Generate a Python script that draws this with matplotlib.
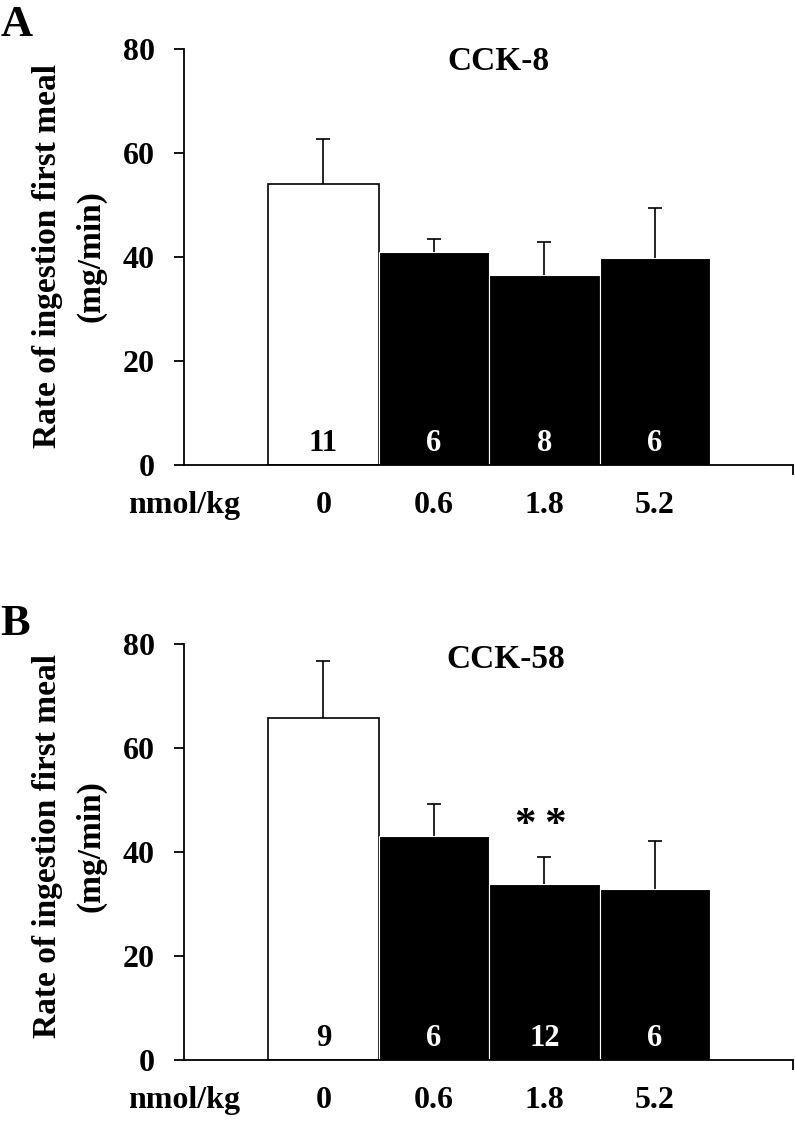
import matplotlib
matplotlib.use('Agg')
import matplotlib.pyplot as plt

plt.rcParams['font.family'] = ['Liberation Serif', 'DejaVu Serif']
plt.rcParams['font.weight'] = 'bold'

doses = ['0', '0.6', '1.8', '5.2']
unit_label = 'nmol/kg'
a_means = [54.0, 41.0, 36.5, 39.9]
a_sem = [8.7, 2.4, 6.4, 9.5]
a_n = ['11', '6', '8', '6']
b_means = [65.8, 43.1, 33.9, 33.0]
b_sem = [11.0, 6.1, 5.2, 9.1]
b_n = ['9', '6', '12', '6']
fills = ['white', 'black', 'black', 'black']
yticks = [0, 20, 40, 60, 80]

fig = plt.figure(figsize=(7.95, 11.21), dpi=100)

XL, XR = -1.262, 4.25
LW = 1.3


def panel(rect, means, sem, ns, title, title_xy, letter, letter_xy, label_cy, stars=None):
    ax = fig.add_axes(rect)
    x = list(range(len(means)))
    for i in x:
        ec = 'black' if fills[i] == 'white' else 'white'
        ax.bar(i, means[i], width=1.0, color=fills[i], edgecolor=ec,
               linewidth=1.2 if fills[i] == 'white' else 0.8, zorder=2)
        eb = ax.errorbar(i, means[i], yerr=[[0], [sem[i]]], fmt='none', ecolor='black',
                         elinewidth=1.2, capsize=5, capthick=1.2, zorder=1)
        caps = eb[1]
        if len(caps) > 1:
            caps[0].set_visible(False)
        ax.text(i, 4.2, ns[i], ha='center', va='center', fontsize=22,
                color='black' if fills[i] == 'white' else 'white', zorder=3)
    ax.set_xlim(XL, XR)
    ax.set_ylim(0, 80)
    for s in ['top', 'right']:
        ax.spines[s].set_visible(False)
    for s in ['left', 'bottom']:
        ax.spines[s].set_linewidth(LW)
    ax.set_yticks(yticks)
    ax.set_yticklabels([str(t) for t in yticks], fontsize=23)
    ax.tick_params(axis='y', direction='out', length=7, width=LW, pad=14)
    ax.set_xticks([XL] + x)
    ax.set_xticklabels([unit_label] + doses, fontsize=23)
    ax.tick_params(axis='x', which='major', length=0, pad=18.5)
    ax.set_xticks([XL, XR], minor=True)
    ax.tick_params(axis='x', which='minor', direction='out', length=7, width=LW)
    ax.text(title_xy[0], title_xy[1], title, ha='center', va='center', fontsize=24)
    if stars:
        ax.text(stars[0] - 0.03, stars[1], '*\u2009*', ha='center', va='center', fontsize=31,
                family=['Liberation Serif', 'DejaVu Serif'])
    fig.text(letter_xy[0], letter_xy[1], letter, ha='center', va='center', fontsize=32)
    fig.text(47.5 / 795, label_cy, 'Rate of ingestion first meal', rotation=90,
             ha='center', va='center', fontsize=24)
    fig.text(91 / 795, label_cy, '(mg/min)', rotation=90,
             ha='center', va='center', fontsize=24)
    return ax


panel([184 / 795, 1 - 465 / 1121, 609 / 795, 416 / 1121], a_means, a_sem, a_n,
      'CCK-8', (1.58, 77.5), 'A', (17 / 795, 1 - 25 / 1121), 1 - 256 / 1121)
panel([184 / 795, 1 - 1060 / 1121, 609 / 795, 415.7 / 1121], b_means, b_sem, b_n,
      'CCK-58', (1.65, 77), 'B', (15 / 795, 1 - 624 / 1121), 1 - 846 / 1121,
      stars=(2, 45))

fig.savefig('out.png', dpi=100)
